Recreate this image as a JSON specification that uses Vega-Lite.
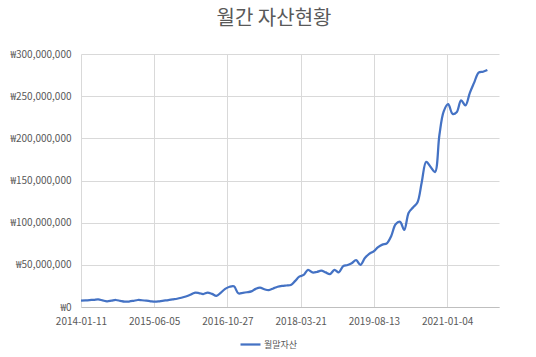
{
  "$schema": "https://vega.github.io/schema/vega-lite/v6.json",
  "autosize": {"type": "none"},
  "width": 418,
  "height": 253,
  "padding": {"left": 81, "top": 54, "right": 37, "bottom": 50},
  "background": "white",
  "title": {
    "text": "월간 자산현황",
    "font": "Noto Sans CJK KR",
    "fontSize": 20,
    "fontWeight": "normal",
    "color": "#595959",
    "anchor": "middle",
    "frame": "group",
    "dx": -16,
    "offset": 20
  },
  "config": {
    "view": {"stroke": null},
    "axis": {
      "labelFont": "Noto Sans CJK KR",
      "labelFontSize": 10,
      "labelColor": "#595959",
      "gridColor": "#D9D9D9",
      "gridWidth": 1,
      "ticks": false,
      "title": null
    }
  },
  "data": {
    "values": [
      {"date": "2014-01-11", "value": 7500000},
      {"date": "2014-02-11", "value": 7800000},
      {"date": "2014-03-11", "value": 8200000},
      {"date": "2014-04-11", "value": 8500000},
      {"date": "2014-05-11", "value": 9000000},
      {"date": "2014-06-11", "value": 7800000},
      {"date": "2014-07-11", "value": 6800000},
      {"date": "2014-08-11", "value": 7500000},
      {"date": "2014-09-11", "value": 8300000},
      {"date": "2014-10-11", "value": 7300000},
      {"date": "2014-11-11", "value": 6300000},
      {"date": "2014-12-11", "value": 6500000},
      {"date": "2015-01-11", "value": 7300000},
      {"date": "2015-02-11", "value": 8300000},
      {"date": "2015-03-11", "value": 8000000},
      {"date": "2015-04-11", "value": 7500000},
      {"date": "2015-05-11", "value": 6800000},
      {"date": "2015-06-11", "value": 6300000},
      {"date": "2015-07-11", "value": 6800000},
      {"date": "2015-08-11", "value": 7500000},
      {"date": "2015-09-11", "value": 8200000},
      {"date": "2015-10-11", "value": 9000000},
      {"date": "2015-11-11", "value": 9800000},
      {"date": "2015-12-11", "value": 11000000},
      {"date": "2016-01-11", "value": 12500000},
      {"date": "2016-02-11", "value": 14500000},
      {"date": "2016-03-11", "value": 16800000},
      {"date": "2016-04-11", "value": 16500000},
      {"date": "2016-05-11", "value": 15400000},
      {"date": "2016-06-11", "value": 17000000},
      {"date": "2016-07-11", "value": 15500000},
      {"date": "2016-08-11", "value": 13200000},
      {"date": "2016-09-11", "value": 17000000},
      {"date": "2016-10-11", "value": 21500000},
      {"date": "2016-11-11", "value": 24000000},
      {"date": "2016-12-11", "value": 24500000},
      {"date": "2017-01-11", "value": 16200000},
      {"date": "2017-02-11", "value": 16800000},
      {"date": "2017-03-11", "value": 17500000},
      {"date": "2017-04-11", "value": 18500000},
      {"date": "2017-05-11", "value": 21500000},
      {"date": "2017-06-11", "value": 23000000},
      {"date": "2017-07-11", "value": 21000000},
      {"date": "2017-08-11", "value": 20000000},
      {"date": "2017-09-11", "value": 22000000},
      {"date": "2017-10-11", "value": 24000000},
      {"date": "2017-11-11", "value": 25000000},
      {"date": "2017-12-11", "value": 25500000},
      {"date": "2018-01-11", "value": 26000000},
      {"date": "2018-02-11", "value": 31000000},
      {"date": "2018-03-11", "value": 36000000},
      {"date": "2018-04-11", "value": 38000000},
      {"date": "2018-05-11", "value": 44000000},
      {"date": "2018-06-11", "value": 41000000},
      {"date": "2018-07-11", "value": 41500000},
      {"date": "2018-08-11", "value": 43000000},
      {"date": "2018-09-11", "value": 41000000},
      {"date": "2018-10-11", "value": 39000000},
      {"date": "2018-11-11", "value": 44000000},
      {"date": "2018-12-11", "value": 41000000},
      {"date": "2019-01-11", "value": 48500000},
      {"date": "2019-02-11", "value": 49800000},
      {"date": "2019-03-11", "value": 52000000},
      {"date": "2019-04-11", "value": 55500000},
      {"date": "2019-05-11", "value": 50000000},
      {"date": "2019-06-11", "value": 58000000},
      {"date": "2019-07-11", "value": 63000000},
      {"date": "2019-08-11", "value": 66000000},
      {"date": "2019-09-11", "value": 71000000},
      {"date": "2019-10-11", "value": 74000000},
      {"date": "2019-11-11", "value": 75500000},
      {"date": "2019-12-11", "value": 84000000},
      {"date": "2020-01-11", "value": 98000000},
      {"date": "2020-02-11", "value": 101000000},
      {"date": "2020-03-11", "value": 91500000},
      {"date": "2020-04-11", "value": 111800000},
      {"date": "2020-05-11", "value": 118000000},
      {"date": "2020-06-11", "value": 124000000},
      {"date": "2020-07-11", "value": 148000000},
      {"date": "2020-08-11", "value": 172000000},
      {"date": "2020-09-11", "value": 166000000},
      {"date": "2020-10-11", "value": 160000000},
      {"date": "2020-11-11", "value": 204000000},
      {"date": "2020-12-11", "value": 232000000},
      {"date": "2021-01-11", "value": 240500000},
      {"date": "2021-02-11", "value": 229000000},
      {"date": "2021-03-11", "value": 231000000},
      {"date": "2021-04-11", "value": 245000000},
      {"date": "2021-05-11", "value": 239000000},
      {"date": "2021-06-11", "value": 254000000},
      {"date": "2021-07-11", "value": 266000000},
      {"date": "2021-08-11", "value": 278000000},
      {"date": "2021-09-11", "value": 279000000},
      {"date": "2021-10-11", "value": 281000000}
    ]
  },
  "mark": {"type": "line", "interpolate": "catmull-rom", "strokeWidth": 2.25},
  "encoding": {
    "x": {
      "field": "date",
      "type": "temporal",
      "scale": {
        "type": "utc",
        "domain": [
          {"year": 2014, "month": 1, "date": 11, "utc": true},
          {"year": 2021, "month": 12, "date": 31, "utc": true}
        ]
      },
      "axis": {
        "values": [
          {"year": 2014, "month": 1, "date": 11, "utc": true},
          {"year": 2015, "month": 6, "date": 5, "utc": true},
          {"year": 2016, "month": 10, "date": 27, "utc": true},
          {"year": 2018, "month": 3, "date": 21, "utc": true},
          {"year": 2019, "month": 8, "date": 13, "utc": true},
          {"year": 2021, "month": 1, "date": 4, "utc": true}
        ],
        "labelExpr": "utcFormat(datum.value, '%Y-%m-%d')",
        "labelPadding": 9,
        "domain": true,
        "domainColor": "#BFBFBF",
        "labelFlush": false,
        "labelOverlap": false
      }
    },
    "y": {
      "field": "value",
      "type": "quantitative",
      "scale": {"domain": [0, 300000000], "nice": false},
      "axis": {
        "values": [0, 50000000, 100000000, 150000000, 200000000, 250000000, 300000000],
        "labelExpr": "'₩' + format(datum.value, ',')",
        "labelPadding": 10,
        "domain": false
      }
    },
    "color": {
      "datum": "월말자산",
      "type": "nominal",
      "scale": {"range": ["#4472C4"]},
      "legend": {
        "title": null,
        "orient": "none",
        "legendX": 158,
        "legendY": 279,
        "symbolType": "stroke",
        "symbolSize": 400,
        "symbolStrokeWidth": 2.25,
        "labelFont": "Noto Sans CJK KR",
        "labelFontSize": 9,
        "labelColor": "#595959",
        "labelOffset": 2
      }
    }
  }
}
